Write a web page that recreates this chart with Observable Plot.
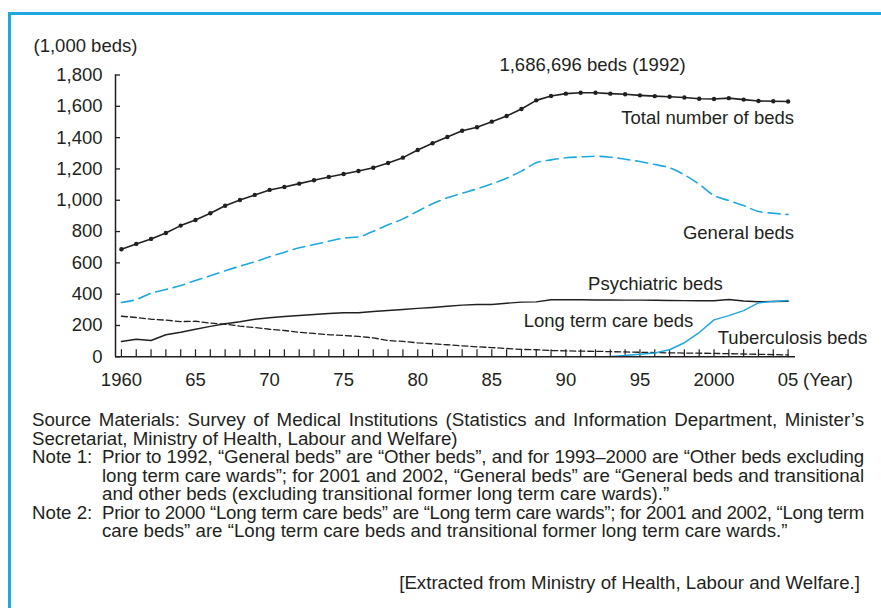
<!DOCTYPE html>
<html><head><meta charset="utf-8">
<script src="https://cdn.jsdelivr.net/npm/d3@7"></script>
<script src="https://cdn.jsdelivr.net/npm/@observablehq/plot@0.6"></script>
<style>
html,body{margin:0;padding:0;background:#fff;width:881px;height:608px;overflow:hidden;}
body{position:relative;font-family:"Liberation Sans",Arial,Helvetica,sans-serif;color:#231f20;}
#chart{position:absolute;left:0;top:0;}
#frame{position:absolute;left:8px;top:12px;width:1000px;height:1000px;border-left:3px solid #1fa8e0;border-top:3px solid #1fa8e0;pointer-events:none;}
#notes{position:absolute;left:32px;top:411px;width:832px;font-size:18.7px;line-height:18.5px;}
#notes div{white-space:nowrap;}
.j{text-align:justify;text-align-last:justify;}
.note{display:flex;}
.note .lab{width:70px;flex:none;}
.note .txt{width:762px;}
.src{margin-top:33px;text-align:right;padding-right:4px;}
</style></head><body>
<div id="chart"></div>
<div id="notes">
  <div class="j">Source Materials: Survey of Medical Institutions (Statistics and Information Department, Minister’s</div>
  <div>Secretariat, Ministry of Health, Labour and Welfare)</div>
  <div class="note"><div class="lab">Note 1:</div><div class="txt">
    <div class="j">Prior to 1992, “General beds” are “Other beds”, and for 1993–2000 are “Other beds excluding</div>
    <div class="j">long term care wards”; for 2001 and 2002, “General beds” are “General beds and transitional</div>
    <div>and other beds (excluding transitional former long term care wards).”</div>
  </div></div>
  <div class="note"><div class="lab">Note 2:</div><div class="txt">
    <div class="j">Prior to 2000 “Long term care beds” are “Long term care wards”; for 2001 and 2002, “Long term</div>
    <div>care beds” are “Long term care beds and transitional former long term care wards.”</div>
  </div></div>
  <div class="src">[Extracted from Ministry of Health, Labour and Welfare.]</div>
</div>
<div id="frame"></div>
<script>
// ---- data (1,000 beds) ----
const years = [1960,1961,1962,1963,1964,1965,1966,1967,1968,1969,1970,1971,1972,1973,1974,1975,1976,1977,1978,1979,
  1980,1981,1982,1983,1984,1985,1986,1987,1988,1989,1990,1991,1992,1993,1994,1995,1996,1997,1998,1999,
  2000,2001,2002,2003,2004,2005];
const totalBeds = [687,721,753,791,838,874,917,965,1002,1034,1066,1085,1106,1128,1149,1168,1187,1208,1238,1272,
  1321,1364,1404,1444,1466,1502,1538,1583,1638,1666,1681,1687,1687,1681,1677,1670,1665,1661,1656,1648,
  1647,1652,1643,1634,1632,1631];
const generalBeds = [347,366,406,430,455,487,517,549,579,607,639,668,696,717,738,758,766,802,843,881,
  930,977,1016,1045,1073,1105,1141,1186,1239,1258,1271,1277,1281,1275,1262,1247,1228,1207,1162,1102,
  1030,998,966,928,917,909];
const psychiatricBeds = [98,112,104,141,157,176,194,211,224,240,249,257,264,270,277,281,281,289,296,302,
  309,315,323,330,334,334,342,349,351,364,364,364,363,363,362,362,361,360,359,358,
  358,366,356,352,353,355];
const tuberculosisBeds = [259,251,240,234,225,227,215,208,196,187,176,168,157,149,141,136,130,121,104,98,
  89,83,77,70,64,59,53,47,45,40,38,36,35,33,31,29,27,25,24,23,
  22,20,18,16,14,12];
const ltcYears = [1993,1994,1995,1996,1997,1998,1999,2000,2001,2002,2003,2004,2005];
const ltcBeds = [2,8,17,25,45,90,155,236,263,295,344,354,359];

const yTicks = [0,200,400,600,800,1000,1200,1400,1600,1800];
const xTickValues = [1960,1965,1970,1975,1980,1985,1990,1995,2000,2005];
const xTickLabels = ["1960","65","70","75","80","85","90","95","2000","05"];
const yUnit = "(1,000 beds)";
const xUnit = "(Year)";

const annotations = [
  {text:"1,686,696 beds (1992)", x:1991.8, y:1861, anchor:"middle"},
  {text:"Total number of beds", x:2005.4, y:1528, anchor:"end"},
  {text:"General beds", x:2005.4, y:788, anchor:"end"},
  {text:"Psychiatric beds", x:1991.5, y:462, anchor:"start"},
  {text:"Long term care beds", x:1987.15, y:225, anchor:"start"},
  {text:"Tuberculosis beds", x:2000.25, y:117, anchor:"start"}
];

// ---- build ----
const ink = "#231f20";
const blue = "#1fa8e0";
const fs = 18.5;
const rows = (vals, yrs) => vals.map((v,i) => ({year: yrs[i], value: v}));
const total = rows(totalBeds, years);
const general = rows(generalBeds, years);
const psych = rows(psychiatricBeds, years);
const tb = rows(tuberculosisBeds, years);
const ltc = rows(ltcBeds, ltcYears);
const xMin = 1959.6, xMax = 2005.5;
const labelMap = new Map(xTickValues.map((v,i)=>[v, xTickLabels[i]]));

const chart = Plot.plot({
  width: 881, height: 400,
  marginLeft: 115, marginRight: 86, marginTop: 74.5, marginBottom: 43.7,
  x: {domain: [xMin, xMax], label: null},
  y: {domain: [0, 1800], label: null},
  style: {fontFamily: '"Liberation Sans", Arial, Helvetica, sans-serif', fontSize: fs + "px", color: ink, background: "transparent", overflow: "visible"},
  marks: [
    Plot.ruleY(yTicks, {y: d => d, x1: xMin, x2: xMin + 0.34, stroke: ink, strokeWidth: 1.3}),
    Plot.ruleX(years, {x: d => d, y1: 0, y2: 45, stroke: ink, strokeWidth: 1.2}),
    Plot.axisY({ticks: yTicks, tickSize: 0, tickPadding: 13, tickFormat: d3.format(","), fontSize: fs, fill: ink}),
    Plot.axisX({ticks: xTickValues, tickSize: 0, tickPadding: 16.5, tickFormat: d => labelMap.get(d), fontSize: fs, fill: ink}),
    Plot.text([xUnit], {x: () => xTickValues[xTickValues.length-1], y: () => 0, text: d => d, dx: 15, dy: 16.5, textAnchor: "start", lineAnchor: "top", fill: ink, fontSize: fs}),
    Plot.text([yUnit], {frameAnchor: "top-left", text: d => d, dx: -82, dy: -28.5, textAnchor: "start", lineAnchor: "middle", fill: ink, fontSize: fs}),
    // series
    Plot.lineY(tb, {x: "year", y: "value", stroke: ink, strokeWidth: 1.3, strokeDasharray: "6,3"}),
    Plot.lineY(psych, {x: "year", y: "value", stroke: ink, strokeWidth: 1.4}),
    Plot.lineY(ltc, {x: "year", y: "value", stroke: blue, strokeWidth: 1.5}),
    Plot.lineY(general, {x: "year", y: "value", stroke: blue, strokeWidth: 1.6, strokeDasharray: "12,6", curve: "monotone-x"}),
    Plot.lineY(total, {x: "year", y: "value", stroke: ink, strokeWidth: 1.6}),
    Plot.dot(total, {x: "year", y: "value", r: 2.2, fill: ink, stroke: "none"}),
    // axis lines
    Plot.ruleX([xMin], {stroke: ink, strokeWidth: 1.5}),
    Plot.ruleY([0], {stroke: ink, strokeWidth: 1.5}),
    // annotations
    ...["start","middle","end"].map(a => Plot.text(annotations.filter(d => d.anchor === a),
      {x: "x", y: "y", text: "text", textAnchor: a, lineAnchor: "middle", fill: ink, fontSize: fs}))
  ]
});
document.getElementById("chart").appendChild(chart);

// fit the justified note lines into their column (tighten tracking only when needed)
document.querySelectorAll("#notes .j").forEach(el => {
  let ls = 0;
  while (el.scrollWidth > el.clientWidth + 0.5 && ls > -2) {
    ls -= 0.05;
    el.style.letterSpacing = ls.toFixed(2) + "px";
  }
});
</script>
</body></html>
